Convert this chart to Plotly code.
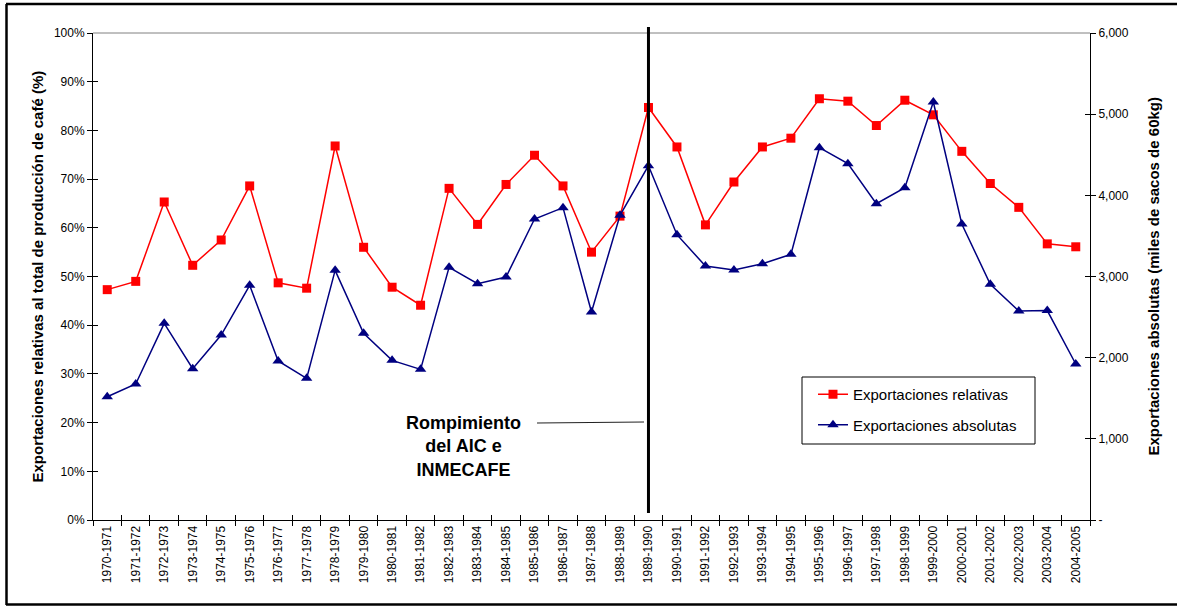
import plotly.graph_objects as go

# Coffee harvest seasons
seasons = [
    "1970-1971", "1971-1972", "1972-1973", "1973-1974", "1974-1975",
    "1975-1976", "1976-1977", "1977-1978", "1978-1979", "1979-1980",
    "1980-1981", "1981-1982", "1982-1983", "1983-1984", "1984-1985",
    "1985-1986", "1986-1987", "1987-1988", "1988-1989", "1989-1990",
    "1990-1991", "1991-1992", "1992-1993", "1993-1994", "1994-1995",
    "1995-1996", "1996-1997", "1997-1998", "1998-1999", "1999-2000",
    "2000-2001", "2001-2002", "2002-2003", "2003-2004", "2004-2005",
]

# Exports as a share of total coffee production (fraction)
relative_exports = [
    0.473, 0.490, 0.653, 0.523, 0.575, 0.686, 0.487, 0.476, 0.768, 0.560,
    0.478, 0.441, 0.681, 0.607, 0.689, 0.749, 0.686, 0.550, 0.624, 0.847,
    0.766, 0.606, 0.694, 0.766, 0.784, 0.865, 0.860, 0.810, 0.862, 0.832,
    0.757, 0.691, 0.642, 0.567, 0.561,
]

# Absolute exports (thousands of 60 kg bags)
absolute_exports = [
    1519, 1676, 2423, 1864, 2279, 2891, 1959, 1745, 3076, 2300,
    1967, 1856, 3113, 2911, 2994, 3708, 3848, 2563, 3754, 4365,
    3515, 3129, 3080, 3158, 3273, 4587, 4390, 3897, 4094, 5150,
    3647, 2904, 2575, 2580, 1922,
]

left_ticks = [0, 0.1, 0.2, 0.3, 0.4, 0.5, 0.6, 0.7, 0.8, 0.9, 1.0]
right_ticks = [0, 1000, 2000, 3000, 4000, 5000, 6000]
right_tick_text = ["-", "1,000", "2,000", "3,000", "4,000", "5,000", "6,000"]

break_season = "1989-1990"

FONT = "Liberation Sans, Arial, sans-serif"
W, H = 1177, 607
ML, MR, MT, MB = 93, 87, 33, 87
PW, PH = W - ML - MR, H - MT - MB


def px_x(px):
    return (px - ML) / PW


def px_y(py):
    return (H - MB - py) / PH


fig = go.Figure()

fig.add_trace(go.Scatter(
    x=seasons, y=relative_exports, name="Exportaciones relativas",
    mode="lines+markers", legendgroup="rel",
    line=dict(color="#FF0000", width=1.5),
    marker=dict(symbol="square", size=9, color="#FF0000"),
    xaxis="x", yaxis="y",
))
fig.add_trace(go.Scatter(
    x=seasons, y=absolute_exports, name="Exportaciones absolutas",
    mode="lines+markers", legendgroup="abs",
    line=dict(color="#000080", width=1.5),
    marker=dict(symbol="triangle-up", size=10, color="#000080"),
    xaxis="x", yaxis="y2",
))
# empty traces that carry the inner half of the crossing tick marks
fig.add_trace(go.Scatter(x=seasons, y=[None] * len(seasons), xaxis="x2", yaxis="y3",
                         showlegend=False, hoverinfo="skip"))
fig.add_trace(go.Scatter(x=seasons, y=[None] * len(seasons), xaxis="x2", yaxis="y4",
                         showlegend=False, hoverinfo="skip"))

cat_axis = dict(type="category", categoryorder="array", categoryarray=seasons,
                range=[-0.5, len(seasons) - 0.5], tickson="boundaries",
                showgrid=False, zeroline=False, ticklen=5, tickcolor="#000",
                tickwidth=1, fixedrange=True)

fig.update_layout(
    width=W, height=H,
    margin=dict(l=ML, r=MR, t=MT, b=MB, autoexpand=False),
    paper_bgcolor="white", plot_bgcolor="white",
    font=dict(family=FONT, size=12, color="#000"),
    xaxis=dict(**cat_axis, ticks="outside", showline=True, linecolor="#000",
               linewidth=1, tickangle=-90, tickfont=dict(size=12), anchor="y"),
    xaxis2=dict(**cat_axis, ticks="inside", showline=False, showticklabels=False,
                overlaying="x", anchor="y"),
    yaxis=dict(range=[0, 1], tickvals=left_ticks, tickformat=".0%", ticks="outside",
               ticklen=5, tickcolor="#000", showline=True, linecolor="#000",
               linewidth=1, showgrid=False, zeroline=False, tickfont=dict(size=12),
               fixedrange=True),
    yaxis2=dict(range=[0, 6000], tickvals=right_ticks, ticktext=right_tick_text,
                side="right", overlaying="y", anchor="x", ticks="outside", ticklen=5,
                tickcolor="#000", showline=True, linecolor="#000", linewidth=1,
                showgrid=False, zeroline=False, tickfont=dict(size=12), fixedrange=True),
    yaxis3=dict(range=[0, 1], tickvals=left_ticks, ticks="inside", ticklen=5,
                tickcolor="#000", showticklabels=False, showline=False,
                showgrid=False, zeroline=False, overlaying="y", side="left",
                anchor="x", fixedrange=True),
    yaxis4=dict(range=[0, 6000], tickvals=right_ticks, ticks="inside", ticklen=5,
                tickcolor="#000", showticklabels=False, showline=False,
                showgrid=False, zeroline=False, overlaying="y", side="right",
                anchor="x", fixedrange=True),
    legend=dict(x=px_x(813), y=px_y(378), xanchor="left", yanchor="top",
                font=dict(size=15, color="#000"), bgcolor="rgba(0,0,0,0)",
                borderwidth=0, tracegroupgap=8, itemwidth=30),
    showlegend=True,
)

break_idx = seasons.index(break_season)

shapes = [
    # plot-area top edge
    dict(type="line", xref="paper", yref="paper", x0=0, x1=1, y0=1, y1=1,
         line=dict(color="#808080", width=1)),
    # break marker
    dict(type="line", xref="x", yref="paper", x0=break_idx, x1=break_idx,
         y0=px_y(513), y1=px_y(27), line=dict(color="#000", width=3)),
    # annotation leader
    dict(type="line", xref="paper", yref="paper", x0=px_x(537), x1=px_x(644),
         y0=px_y(423), y1=px_y(422), line=dict(color="#222", width=1.2)),
    # legend box
    dict(type="rect", xref="paper", yref="paper", x0=px_x(802), x1=px_x(1035),
         y0=px_y(444), y1=px_y(377), line=dict(color="#000", width=1),
         fillcolor="rgba(0,0,0,0)", layer="below"),
    # outer frame
    dict(type="line", xref="paper", yref="paper", x0=px_x(6), x1=px_x(1180),
         y0=px_y(4), y1=px_y(4), line=dict(color="#000", width=2.5)),
    dict(type="line", xref="paper", yref="paper", x0=px_x(6), x1=px_x(1180),
         y0=px_y(604.5), y1=px_y(604.5), line=dict(color="#000", width=2.5)),
    dict(type="line", xref="paper", yref="paper", x0=px_x(6.5), x1=px_x(6.5),
         y0=px_y(4), y1=px_y(605), line=dict(color="#000", width=2.5)),
]
fig.update_layout(shapes=shapes)

annotations = [
    dict(text="<b>Exportaciones relativas al total de producción de café (%)</b>",
         xref="paper", yref="paper", x=px_x(37), y=0.5, textangle=-90,
         showarrow=False, font=dict(size=15), xanchor="center", yanchor="middle"),
    dict(text="<b>Exportaciones absolutas (miles de sacos de 60kg)</b>",
         xref="paper", yref="paper", x=px_x(1153), y=0.5, textangle=-90,
         showarrow=False, font=dict(size=15), xanchor="center", yanchor="middle"),
    dict(text="<b>Rompimiento<br>del AIC e<br>INMECAFE</b>",
         xref="paper", yref="paper", x=px_x(463), y=px_y(446),
         showarrow=False, font=dict(size=18), align="center",
         xanchor="center", yanchor="middle"),
]
fig.update_layout(annotations=annotations)

fig.write_html("out.html")
